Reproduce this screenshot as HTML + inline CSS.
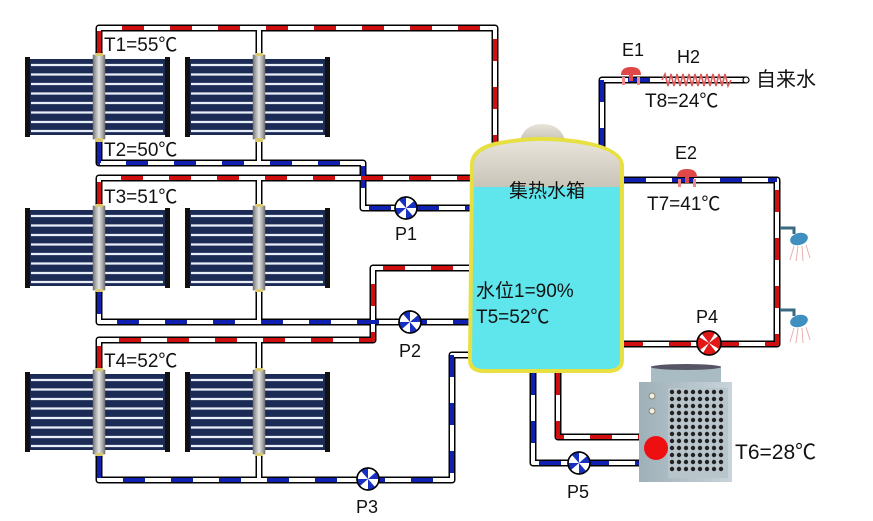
<!DOCTYPE html>
<html><head><meta charset="utf-8"><style>
html,body{margin:0;padding:0;background:#fff;}
svg{display:block;}
text{font-family:"Liberation Sans","Noto Sans CJK SC",sans-serif;fill:#111;}
</style></head><body>
<svg width="873" height="521" viewBox="0 0 873 521" xmlns="http://www.w3.org/2000/svg">
<defs>
<linearGradient id="man" x1="0" x2="1"><stop offset="0" stop-color="#777"/><stop offset="0.5" stop-color="#e6e6e6"/><stop offset="1" stop-color="#777"/></linearGradient>
<linearGradient id="cap" x1="0" y1="0" x2="0" y2="1"><stop offset="0" stop-color="#e8e4da"/><stop offset="1" stop-color="#c9c4b8"/></linearGradient>
<linearGradient id="hp" x1="0" x2="1"><stop offset="0" stop-color="#9fb0b8"/><stop offset="1" stop-color="#c8d4da"/></linearGradient>
<g id="panel">
  <rect x="4" y="2" width="136" height="76" fill="#1c2b55"/>
  <g stroke="#e8eef8" stroke-width="2.2">
    <line x1="6" y1="8" x2="138" y2="8"/><line x1="6" y1="17.5" x2="138" y2="17.5"/>
    <line x1="6" y1="27" x2="138" y2="27"/><line x1="6" y1="36.5" x2="138" y2="36.5"/>
    <line x1="6" y1="46" x2="138" y2="46"/><line x1="6" y1="55.5" x2="138" y2="55.5"/>
    <line x1="6" y1="65" x2="138" y2="65"/><line x1="6" y1="74" x2="138" y2="74"/>
  </g>
  <rect x="0" y="0" width="5" height="80" fill="#111"/>
  <rect x="140" y="0" width="5" height="80" fill="#111"/>
  <rect x="68" y="-2" width="12" height="84" fill="url(#man)" stroke="#666" stroke-width="0.5"/>
  <rect x="70" y="-5" width="8" height="4" fill="#d8c870"/>
  <rect x="70" y="81" width="8" height="4" fill="#d8c870"/>
</g>
</defs>

<use href="#panel" x="25" y="57"/><use href="#panel" x="185" y="57"/>
<use href="#panel" x="25" y="208"/><use href="#panel" x="185" y="208"/>
<use href="#panel" x="25" y="372"/><use href="#panel" x="185" y="372"/>

<g fill="none" stroke-linejoin="round">
<g stroke="#000" stroke-width="7">
  <path d="M99 53 V28 H495 V152"/><path d="M259 53 V28"/>
  <path d="M99 142 V163 H363 V208 H470"/><path d="M259 142 V163"/>
  <path d="M99 204 V178 H470"/><path d="M259 204 V178"/>
  <path d="M99 292 V322 H470"/><path d="M259 292 V322"/>
  <path d="M99 368 V340 H373 V268 H470"/><path d="M259 368 V340"/>
  <path d="M99 456 V480 H452 V355 H470"/><path d="M259 456 V480"/>
  <path d="M602 150 V80 H745"/>
  <path d="M624 180 H777 V344 H624"/>
  <path d="M533 373 V463 H640"/><path d="M558 373 V437 H640"/>
</g>
<g stroke="#fff" stroke-width="4">
  <path d="M99 53 V28 H495 V152"/><path d="M259 53 V28"/>
  <path d="M99 142 V163 H363 V208 H470"/><path d="M259 142 V163"/>
  <path d="M99 204 V178 H470"/><path d="M259 204 V178"/>
  <path d="M99 292 V322 H470"/><path d="M259 292 V322"/>
  <path d="M99 368 V340 H373 V268 H470"/><path d="M259 368 V340"/>
  <path d="M99 456 V480 H452 V355 H470"/><path d="M259 456 V480"/>
  <path d="M602 150 V80 H745"/>
  <path d="M624 180 H777 V344 H624"/>
  <path d="M533 373 V463 H640"/><path d="M558 373 V437 H640"/>
</g>
<g stroke-width="4" stroke-dasharray="22 26">
  <path stroke="#d01010" d="M99 53 V28 H495 V152"/>
  <path stroke="#1020b0" d="M99 142 V163 H363 V208 H470"/>
  <path stroke="#d01010" d="M99 204 V178 H470"/>
  <path stroke="#1020b0" d="M99 292 V322 H470"/>
  <path stroke="#d01010" d="M99 368 V340 H373 V268 H470"/>
  <path stroke="#1020b0" d="M99 456 V480 H452 V355 H470"/>
  <path stroke="#1020b0" d="M602 150 V80 H660"/>
  <path stroke="#1020b0" d="M624 180 H777"/>
  <path stroke="#d01010" d="M777 190 V344 H624"/>
  <path stroke="#1020b0" d="M533 373 V463 H640"/>
  <path stroke="#d01010" d="M558 373 V437 H640"/>
</g>
</g>
<circle cx="746" cy="80" r="3" fill="#fff" stroke="#000" stroke-width="1.2"/>

<path d="M520 140 Q525 124 542 124 Q560 124 565 140 Z" fill="url(#cap)"/>
<path d="M472 165 Q472 148 500 143 Q542 135 585 143 Q620 150 622 165 V360 Q622 370 610 371 H482 Q470 370 470 360 Z" fill="#5ee6ec" stroke="#e8e040" stroke-width="4"/>
<path d="M474 165 Q474 150 500 145 Q542 137 585 145 Q619 151 620 165 V187 H474 Z" fill="url(#cap)"/>
<text x="509" y="197" font-size="19">集热水箱</text>
<text x="476" y="297" font-size="19">水位1=90%</text>
<text x="476" y="323" font-size="19">T5=52℃</text>

<g stroke="#000" stroke-width="1.5">
  <g transform="translate(406,208)"><circle r="11" fill="#fff"/><path d="M0 0 L-7 -8 A11 11 0 0 1 0 -11 Z M0 0 L8 -7 A11 11 0 0 1 11 0Z M0 0 L7 8 A11 11 0 0 1 0 11Z M0 0 L-8 7 A11 11 0 0 1 -11 0Z" fill="#1830c0" stroke="none"/><circle r="11" fill="none"/></g>
  <g transform="translate(410,322)"><circle r="11" fill="#fff"/><path d="M0 0 L-7 -8 A11 11 0 0 1 0 -11 Z M0 0 L8 -7 A11 11 0 0 1 11 0Z M0 0 L7 8 A11 11 0 0 1 0 11Z M0 0 L-8 7 A11 11 0 0 1 -11 0Z" fill="#1830c0" stroke="none"/><circle r="11" fill="none"/></g>
  <g transform="translate(368,479)"><circle r="11" fill="#fff"/><path d="M0 0 L-7 -8 A11 11 0 0 1 0 -11 Z M0 0 L8 -7 A11 11 0 0 1 11 0Z M0 0 L7 8 A11 11 0 0 1 0 11Z M0 0 L-8 7 A11 11 0 0 1 -11 0Z" fill="#1830c0" stroke="none"/><circle r="11" fill="none"/></g>
  <g transform="translate(579,463)"><circle r="11" fill="#fff"/><path d="M0 0 L-7 -8 A11 11 0 0 1 0 -11 Z M0 0 L8 -7 A11 11 0 0 1 11 0Z M0 0 L7 8 A11 11 0 0 1 0 11Z M0 0 L-8 7 A11 11 0 0 1 -11 0Z" fill="#1830c0" stroke="none"/><circle r="11" fill="none"/></g>
  <g transform="translate(709,343)"><circle r="12" fill="#fff"/><path d="M0 0 L-7 -9 A12 12 0 0 1 0 -12 Z M0 0 L9 -7 A12 12 0 0 1 12 0Z M0 0 L7 9 A12 12 0 0 1 0 12Z M0 0 L-9 7 A12 12 0 0 1 -12 0Z M0 0 L-2 -12 A12 12 0 0 1 6 -10Z M0 0 L12 -2 A12 12 0 0 1 10 6Z M0 0 L2 12 A12 12 0 0 1 -6 10Z M0 0 L-12 2 A12 12 0 0 1 -10 -6Z" fill="#e01818" stroke="none"/><circle r="12" fill="none"/></g>
</g>
<text x="395" y="240" font-size="18">P1</text>
<text x="399" y="357" font-size="18">P2</text>
<text x="356" y="513" font-size="18">P3</text>
<text x="696" y="323" font-size="18">P4</text>
<text x="567" y="498" font-size="18">P5</text>

<g transform="translate(631,75)"><path d="M-10 0 Q-10 -8 0 -8 Q10 -8 10 0 Z" fill="#e04848"/><rect x="-2" y="0" width="4" height="6" fill="#e04848"/><rect x="-9" y="2" width="3" height="8" fill="#e88"/><rect x="6" y="2" width="3" height="8" fill="#e88"/></g>
<g transform="translate(687,177)"><path d="M-10 0 Q-10 -8 0 -8 Q10 -8 10 0 Z" fill="#e04848"/><rect x="-2" y="0" width="4" height="6" fill="#e04848"/><rect x="-9" y="2" width="3" height="8" fill="#e88"/><rect x="6" y="2" width="3" height="8" fill="#e88"/></g>
<text x="622" y="56" font-size="18">E1</text>
<text x="675" y="159" font-size="18">E2</text>
<path d="M662 80 l3 -6 l3 12 l3 -12 l3 12 l3 -12 l3 12 l3 -12 l3 12 l3 -12 l3 12 l3 -12 l3 12 l3 -12 l3 12 l3 -12 l3 12 l3 -12 l3 12 l3 -12 l3 12 l3 -12 l3 12 l3 -6" fill="none" stroke="#e05a5a" stroke-width="1.6"/>
<text x="677" y="63" font-size="18">H2</text>
<text x="756" y="86" font-size="20">自来水</text>
<text x="645" y="107" font-size="19">T8=24℃</text>
<text x="647" y="210" font-size="19">T7=41℃</text>

<g transform="translate(780,228)"><path d="M0 0 H14 V6" stroke="#3a6a80" stroke-width="3" fill="none"/><ellipse cx="19" cy="11" rx="9" ry="6" fill="#3f8fc0" transform="rotate(-15 19 11)"/><g stroke="#e8b0b0" stroke-width="1"><line x1="14" y1="18" x2="10" y2="32"/><line x1="18" y1="18" x2="16" y2="33"/><line x1="22" y1="18" x2="23" y2="33"/><line x1="26" y1="17" x2="30" y2="30"/></g></g>
<g transform="translate(780,310)"><path d="M0 0 H14 V6" stroke="#3a6a80" stroke-width="3" fill="none"/><ellipse cx="19" cy="11" rx="9" ry="6" fill="#3f8fc0" transform="rotate(-15 19 11)"/><g stroke="#e8b0b0" stroke-width="1"><line x1="14" y1="18" x2="10" y2="32"/><line x1="18" y1="18" x2="16" y2="33"/><line x1="22" y1="18" x2="23" y2="33"/><line x1="26" y1="17" x2="30" y2="30"/></g></g>

<rect x="651" y="366" width="70" height="18" fill="#a9bcc4"/>
<ellipse cx="686" cy="367" rx="35" ry="3" fill="#556"/>
<rect x="639" y="382" width="93" height="100" fill="url(#hp)"/>
<rect x="668" y="388" width="60" height="90" fill="#b8c6cc"/>
<g fill="#222">
<g id="hr"><circle cx="672" cy="392" r="2.2"/><circle cx="679" cy="392" r="2.2"/><circle cx="686" cy="392" r="2.2"/><circle cx="693" cy="392" r="2.2"/><circle cx="700" cy="392" r="2.2"/><circle cx="707" cy="392" r="2.2"/><circle cx="714" cy="392" r="2.2"/><circle cx="721" cy="392" r="2.2"/></g>
<use href="#hr" y="7"/><use href="#hr" y="14"/><use href="#hr" y="21"/><use href="#hr" y="28"/><use href="#hr" y="35"/><use href="#hr" y="42"/><use href="#hr" y="49"/><use href="#hr" y="56"/><use href="#hr" y="63"/><use href="#hr" y="70"/><use href="#hr" y="77"/>
</g>
<circle cx="652" cy="396" r="3" fill="#eee" stroke="#886"/>
<circle cx="652" cy="411" r="3" fill="#eee" stroke="#886"/>
<circle cx="656" cy="448" r="12" fill="#ee1010"/>
<text x="735" y="459" font-size="21">T6=28℃</text>

<text x="104" y="51" font-size="19">T1=55℃</text>
<text x="104" y="156" font-size="19">T2=50℃</text>
<text x="104" y="203" font-size="19">T3=51℃</text>
<text x="104" y="367" font-size="19">T4=52℃</text>
</svg>
</body></html>
